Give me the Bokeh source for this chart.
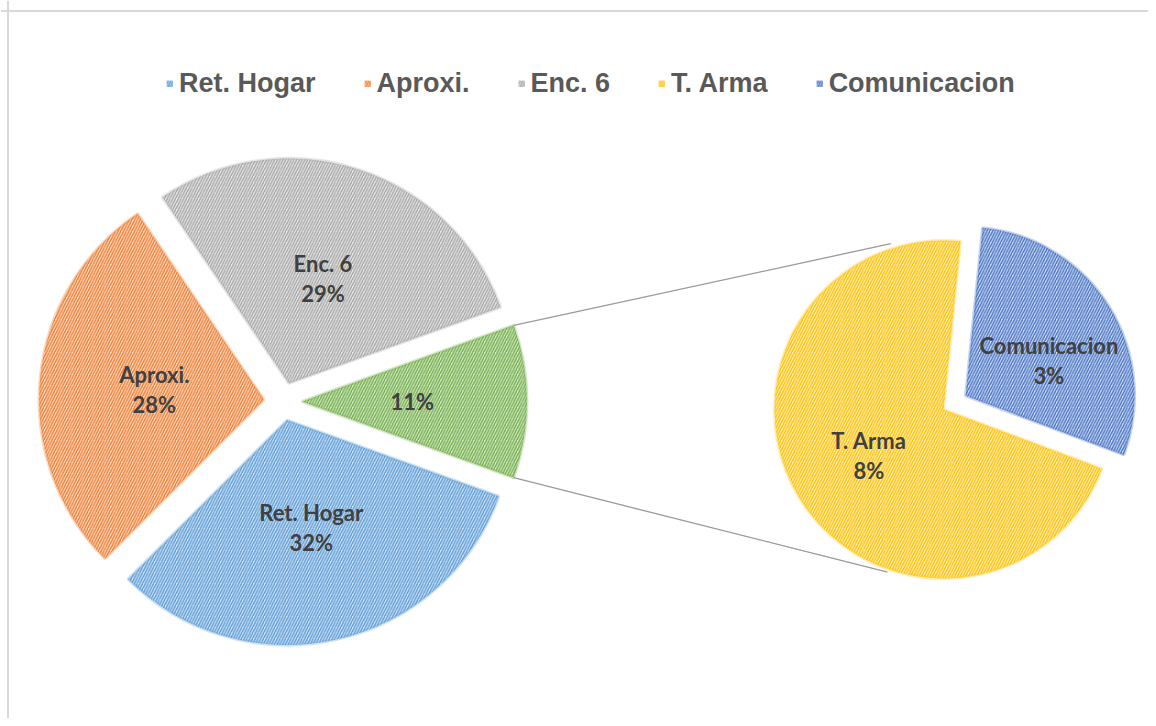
import math
from bokeh.plotting import figure
from bokeh.models import Range1d, ColumnDataSource, Legend, LegendItem, Span
from bokeh.core.properties import value
from bokeh.embed import file_html
from bokeh.resources import INLINE

# ---------------- data ----------------
main_labels = ["Ret. Hogar", "Aproxi.", "Enc. 6"]
main_values = [32, 28, 29]
second_labels = ["T. Arma", "Comunicacion"]
second_values = [7.8, 3.2]
legend_labels = ["Ret. Hogar", "Aproxi.", "Enc. 6", "T. Arma", "Comunicacion"]

# ---------------- styles ----------------
main_hatch = ["#5b9bd5", "#ed7d31", "#a5a5a5", "#70ad47"]
main_fill = ["#d7e6f6", "#fbe1cf", "#ebebeb", "#dcebd2"]
sec_hatch = ["#ffc000", "#4472c4"]
sec_fill = ["#fff2cc", "#d8e0f2"]
sec_label_shift = [0.0, -9.0]     # degrees
sec_label_frac = [0.52, 0.535]
LINE_GAP = 15

W, H = 1148, 718


def sx(x):
    return x


def sy(y):
    return H - y


# main pie geometry (screen px)
MC = (282.5, 401.0)
MR = 225.0
MEXP = 19.0
# second pie geometry
SC = (943.0, 409.0)
SR = 169.0
SEXP = [0.0, 26.0]
SEC_START = -20.5

other_value = sum(second_values)
all_main = main_values + [other_value]
total = sum(all_main)


def add_label(d, lx, ly, name, pct):
    d["name"].append(name)
    d["pct"].append(pct)
    d["lx"].append(sx(lx))
    if name:
        d["ny"].append(sy(ly - LINE_GAP))
        d["py"].append(sy(ly + LINE_GAP))
    else:
        d["ny"].append(sy(ly))
        d["py"].append(sy(ly))


# main wedges (clockwise order starting from -other/2)
cursor = -other_value / total * 360 / 2
m = dict(x=[], y=[], start=[], end=[], fill=[], hatch=[], lx=[], ny=[], py=[], name=[], pct=[])
main_names = main_labels + [""]
for i, v in enumerate(all_main):
    end = cursor
    start = cursor - v / total * 360
    mid = math.radians((start + end) / 2)
    cx = MC[0] + MEXP * math.cos(mid)
    cy = MC[1] - MEXP * math.sin(mid)
    m["x"].append(sx(cx)); m["y"].append(sy(cy))
    m["start"].append(math.radians(start)); m["end"].append(math.radians(end))
    m["fill"].append(main_fill[i]); m["hatch"].append(main_hatch[i])
    lx = cx + 0.49 * MR * math.cos(mid)
    ly = cy - 0.49 * MR * math.sin(mid)
    add_label(m, lx, ly, main_names[i], f"{round(v / total * 100)}%")
    if i == len(all_main) - 1:
        other_start, other_end = start, end
        other_center = (cx, cy)
    cursor = start
msrc = ColumnDataSource(m)

# second pie
cursor = SEC_START
s = dict(x=[], y=[], start=[], end=[], fill=[], hatch=[], lx=[], ny=[], py=[], name=[], pct=[])
for i, v in enumerate(second_values):
    end = cursor
    start = cursor - v / other_value * 360
    mid = math.radians((start + end) / 2)
    cx = SC[0] + SEXP[i] * math.cos(mid)
    cy = SC[1] - SEXP[i] * math.sin(mid)
    s["x"].append(sx(cx)); s["y"].append(sy(cy))
    s["start"].append(math.radians(start)); s["end"].append(math.radians(end))
    s["fill"].append(sec_fill[i]); s["hatch"].append(sec_hatch[i])
    la = mid + math.radians(sec_label_shift[i])
    lx = cx + sec_label_frac[i] * SR * math.cos(la)
    ly = cy - sec_label_frac[i] * SR * math.sin(la)
    add_label(s, lx, ly, second_labels[i], f"{round(v / total * 100)}%")
    cursor = start
ssrc = ColumnDataSource(s)

p = figure(width=W, height=H, output_backend="svg", toolbar_location=None,
           x_range=Range1d(0, W), y_range=Range1d(0, H),
           min_border_left=0, min_border_right=0, min_border_bottom=0,
           min_border_top=0)
p.axis.visible = False
p.grid.visible = False
p.outline_line_color = None
p.background_fill_color = "white"

# border (left & top)
p.add_layout(Span(location=sx(7.5), dimension="height", line_color="#d9d9d9", line_width=2))
p.add_layout(Span(location=sy(10.5), dimension="width", line_color="#d9d9d9", line_width=2))

# connector lines
oa = math.radians(other_end)
ob = math.radians(other_start)
c1 = (other_center[0] + MR * math.cos(oa), other_center[1] - MR * math.sin(oa))
c2 = (other_center[0] + MR * math.cos(ob), other_center[1] - MR * math.sin(ob))
t1 = (SC[0] + (SR + 5) * math.cos(math.radians(107.6)), SC[1] - (SR + 5) * math.sin(math.radians(107.6)))
t2 = (SC[0] + (SR + 3) * math.cos(math.radians(251)), SC[1] - (SR + 3) * math.sin(math.radians(251)))
p.segment(x0=[sx(c1[0]), sx(c2[0])], y0=[sy(c1[1]), sy(c2[1])],
          x1=[sx(t1[0]), sx(t2[0])], y1=[sy(t1[1]), sy(t2[1])],
          line_color="#9a9a9a", line_width=1.3)

wedge_kw = dict(direction="anticlock", fill_color="fill", hatch_color="hatch",
                hatch_pattern="/", hatch_scale=5.5, hatch_weight=1.4,
                line_color="hatch", line_alpha=0.3, line_width=3)
r_main = p.wedge(x="x", y="y", radius=MR, start_angle="start", end_angle="end",
                 source=msrc, **wedge_kw)
r_sec = p.wedge(x="x", y="y", radius=SR, start_angle="start", end_angle="end",
                source=ssrc, **wedge_kw)

lab_kw = dict(text_font=value("Lato"), text_font_style="bold", text_font_size="22px",
              text_color="#404040", text_align="center", text_baseline="middle")
for src in (msrc, ssrc):
    p.text(x="lx", y="ny", text="name", source=src, **lab_kw)
    p.text(x="lx", y="py", text="pct", source=src, **lab_kw)

items = []
for i, lab in enumerate(legend_labels):
    if i < len(main_labels):
        items.append(LegendItem(label=lab, renderers=[r_main], index=i))
    else:
        items.append(LegendItem(label=lab, renderers=[r_sec], index=i - len(main_labels)))
legend = Legend(items=items, orientation="horizontal", location=(166, 619),
                label_text_font="Liberation Sans", label_text_font_style="bold",
                label_text_font_size="27px", label_text_color="#595959",
                glyph_width=7, glyph_height=7, label_standoff=6, spacing=48,
                padding=0, margin=0, border_line_color=None, background_fill_alpha=0)
p.add_layout(legend)

open("out.html", "w").write(file_html(p, INLINE))
